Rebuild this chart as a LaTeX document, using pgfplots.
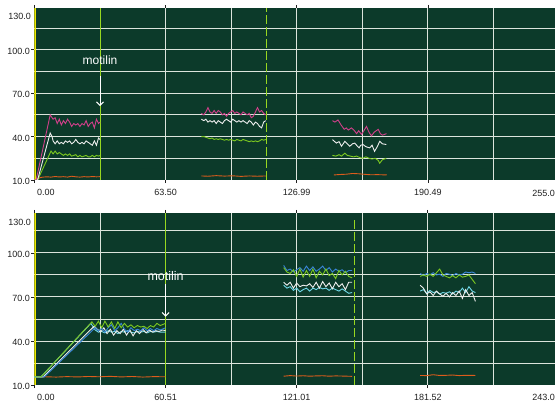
\documentclass[border=0pt]{standalone}
\usepackage{pgfplots}
\pgfplotsset{compat=1.18}
\usepackage{fontspec}
\setmainfont{Liberation Sans}
\usetikzlibrary{arrows.meta}
\definecolor{bgc}{HTML}{0C3A2A}
\definecolor{gridc}{HTML}{DCE4DC}
\definecolor{pinkc}{HTML}{D0408A}
\definecolor{whitec}{HTML}{EEEEEE}
\definecolor{greenc}{HTML}{7CC820}
\definecolor{orangec}{HTML}{DC5C1C}
\definecolor{bluec}{HTML}{3A86D8}
\definecolor{cyanc}{HTML}{70D8E8}
\definecolor{yellowc}{HTML}{F0E800}
\definecolor{motc}{HTML}{98D820}
\definecolor{labc}{HTML}{202020}

\pgfplotsset{
  panel/.style={
    anchor=south west, scale only axis, width=526.5pt, height=172pt,
    ymin=10, axis background/.style={fill=bgc},
    axis line style={draw=none},
    tick align=outside, major tick length=3pt, tick style={labc, line width=0.6pt},
    grid=both, major grid style={gridc, line width=0.9pt}, minor grid style={gridc, line width=0.9pt},
    minor tick length=0pt,
    ytick={40,70,100}, yticklabels={40.0,70.0,100.0},
    minor ytick={25,55,85,115},
    extra y ticks={10}, extra y tick labels={10.0},
    extra y tick style={grid=none},
    ticklabel style={font=\fontsize{9}{10}\selectfont, text=labc},
    yticklabel style={xshift=2pt, yshift=-1.5pt},
    xticklabel style={yshift=-3pt},
    extra x ticks={0}, extra x tick labels={0.00},
    extra x tick style={grid=none, xticklabel style={anchor=north west, xshift=-1pt}},
    unbounded coords=jump,
    every axis plot/.append style={line width=0.9pt, mark=none},
  },
}

\begin{document}
\begin{tikzpicture}[x=1pt,y=1pt]
\fill[white] (0,0) rectangle (555,405);

% ---------------- top panel ----------------
\begin{axis}[panel, at={(34.5pt,225pt)}, xmin=0, xmax=255, ymax=128.8,
  xtick={63.5,126.99,190.49}, xticklabels={63.50,126.99,190.49},
  minor xtick={31.75,95.25,158.74,222.24}]
\addplot[yellowc, line width=2.6pt] coordinates {(0,10) (0,128.8)};
\addplot[motc, line width=1.1pt] coordinates {(31.75,10) (31.75,128.8)};
\addplot[motc, line width=1pt, dash pattern=on 9pt off 3pt] coordinates {(112.6,10) (112.6,128.8)};
% orange
\addplot[orangec] coordinates {(0,10) (1,10.5) (2.5,11.5) (4,12) (6,12.2) (8,12) (10,12.4) (12,12.1) (14,12.3) (16,12) (18,12.6) (20,12.2) (22,12) (24,12.3) (26,12.1) (28,12.4) (30,12.2) (31.75,12.3)
 (50,nan)
 (80.8,12.8) (84,12.6) (88,13) (92,12.7) (96,12.9) (100,12.5) (104,12.8) (108,12.6) (112,12.8)
 (130,nan)
 (145,13.5) (148,13.8) (151,14) (154,14.5) (157,14.3) (160,13.9) (163,13.6) (166,13.7) (170.6,13.5)};
% green
\addplot[greenc] coordinates {(0,10) (1.5,10) (8,30) (9,28) (10,30) (11,28) (12,29) (13,28) (14,27) (15,28) (16,27) (17,28) (18,26.5) (19,27) (20,27.5) (21,26) (22,27) (23,26) (24,26.5) (25,27) (26,26) (27,26) (28,27) (29,26) (30,27) (31,26.5) (31.75,27)
 (50,nan)
 (80.8,40) (82,40) (83,39.5) (84,39) (85,38.5) (86,39) (87,38) (88,38.5) (89,38) (90,38.5) (91,38) (92,37.5) (93,38) (94,37.5) (95,38) (96,37.5) (97,37) (98,38) (99,37.5) (100,37) (101,38) (102,37.5) (103,37) (104,36.5) (105,37) (106,36.5) (107,37) (108,36.5) (109,37) (110,38) (111,37.5) (112,38)
 (130,nan)
 (144.3,27) (146,26.5) (147.5,27.5) (148.7,26.5) (150.3,28.5) (151.5,27) (153,26.5) (154.5,26) (156,26.5) (157.5,25.5) (159,25) (160.5,26) (162,25) (163.5,24.5) (165,25) (166.5,23.5) (167.2,21.6) (168.5,24) (170.4,25)};
% white
\addplot[whitec] coordinates {(0,10) (1.5,10) (7.6,42.5) (8.5,40) (9,37) (10,35) (11,37) (12,35) (13,36) (14,35) (15,37) (16,36) (17,37) (18,35) (19,36) (20,38) (21,36) (22,35) (23,36) (24,35) (25,37) (26,36) (27,35) (28,34) (29,37) (30,34) (31,39) (31.75,38)
 (50,nan)
 (80.8,52) (82,51) (83,52) (84,50) (85,51) (86,50) (87,51) (88,49) (89,51) (90,50) (91,49) (92,51) (93,52) (94,51) (95,50) (96,52) (97,51) (98,50) (99,51) (100,50) (101,51) (102,50) (103,49) (104,51) (105,50) (106,48) (107,50) (108,49) (109,47) (110,46) (111,50) (112,51)
 (130,nan)
 (144.3,37.9) (146.2,35.5) (147.5,36.5) (148.7,33.3) (150.3,36.7) (151.5,35) (152.7,33.3) (154,35) (155.1,35.5) (156,34) (157.2,32.2) (158,34) (159.1,34.5) (160.5,33) (162.3,32.2) (163.5,34) (164.7,29.8) (166,33) (167.2,36.7) (168.5,35) (170.4,34.5)};
% pink
\addplot[pinkc] coordinates {(0,10) (0.8,10) (7.6,55) (9,52) (10,53) (11,49) (12,52) (13,48) (14,51) (15,49) (16,52) (17,50) (18,47) (19,49) (20,48) (21,49) (22,47) (23,49) (24,48) (25,51) (26,47) (27,49) (28,50) (29,46) (30,52) (31,49) (31.75,50)
 (50,nan)
 (80.8,56) (82,55) (83,57) (84,60) (85,57) (86,56) (87,58) (88,56) (89,58) (90,57) (91,55) (92,56) (93,54) (94,56) (95,57) (96,58) (97,56) (98,57) (99,56) (100,55) (101,57) (102,56) (103,55) (104,56) (105,53) (106,54) (107,57) (108,60) (109,57) (110,58) (111,56) (112,55)
 (130,nan)
 (144.3,51) (145.5,50) (147,51.5) (148.5,48) (150,45) (151,46) (152,44.5) (153.5,46) (155,44) (156,42) (157,44) (158.4,41.5) (159.5,44) (160.8,47) (162,43) (163.2,40.5) (164.5,43) (165.5,44) (166.5,45) (167.5,42) (168.5,41) (170.5,42)};
\addplot[white, line width=1.1pt, -{Straight Barb[length=3.5pt,width=7pt]}] coordinates {(31.75,82) (31.75,61)};
\node[text=white, font=\fontsize{12}{14}\selectfont] at (axis cs:31.75,93) {motilin};
\end{axis}
\node[anchor=east, font=\fontsize{9}{10}\selectfont, text=labc, inner sep=0pt] at (31,389) {130.0};
\node[anchor=north east, font=\fontsize{9}{10}\selectfont, text=labc, inner sep=0pt] at (555,215) {255.0};

% ---------------- bottom panel ----------------
\begin{axis}[panel, at={(34.5pt,20pt)}, xmin=0, xmax=243, ymax=127.2,
  xtick={60.51,121.01,181.52}, xticklabels={60.51,121.01,181.52},
  minor xtick={30.25,90.76,151.27,211.77}]
\addplot[yellowc, line width=2.6pt] coordinates {(0,10) (0,127.2)};
\addplot[motc, line width=1.1pt] coordinates {(60.51,10) (60.51,127.2)};
\addplot[motc, line width=1pt, dash pattern=on 9pt off 3pt] coordinates {(147.5,10) (147.5,124)};
% orange
\addplot[orangec] coordinates {(1,15.5) (5,15.6) (10,15.4) (15,15.7) (20,15.5) (25,15.8) (30,15.6) (35,15.9) (40,15.5) (45,15.8) (50,15.4) (55,15.7) (60.5,15.6)
 (90,nan)
 (115,16) (118,16.4) (121,16.1) (124,16.3) (127,16) (130,16.2) (133,16.3) (136,16) (139,16.2) (142,16.1) (146.6,15.9)
 (160,nan)
 (178,16.5) (181,16.4) (184,17) (187,16.5) (190,16.6) (193,16.8) (196,16.4) (199,16.6) (203.5,16.5)};
% cyan
\addplot[cyanc] coordinates {(0,15.5) (3,15.5) (26,52) (28,47.5) (29.5,46) (31,46.5) (32.5,45.5) (34,47) (35.5,46) (37,46.5) (38.5,45) (40,46.5) (41.5,46) (43,47) (44.5,46) (46,45.5) (47.5,46.5) (49,46) (50.5,46.5) (52,45.5) (53.5,46.5) (55,46) (56.5,46.5) (58,46) (60.5,46)
 (90,nan)
 (115,78) (116.5,76) (118,77) (119.5,74.5) (121,76) (122.5,73.5) (124,75) (125.5,76) (127,74) (128.5,76) (130,75) (131.5,76.5) (133,75.5) (134.5,76) (136,74.5) (137.5,76) (139,75) (140.5,74) (142,75.5) (143.5,74) (145,72.5) (146.6,73)
 (160,nan)
 (178,74) (179.5,75) (181,72.5) (182.5,74.5) (184,73) (185.5,73.5) (187,72) (188.5,73) (190,72.5) (191.5,73.5) (193,72) (194.5,74) (196,73) (197.5,76) (199,73) (200.5,77) (202,74) (203.5,73)};
% white
\addplot[whitec] coordinates {(0,15.5) (4,15.5) (27.5,50) (29,48) (30.5,46) (32,49) (33.5,45) (35,48) (36.5,44) (38,47) (39.5,45) (41,48) (42.5,44) (44,47.5) (45.5,43.5) (47,47) (48.5,45) (50,48) (51.5,45.5) (53,47.5) (54.5,46) (56,47) (57.5,46.5) (59,47.5) (60.5,47)
 (90,nan)
 (115,80) (116.5,78) (118,80) (119.5,76) (121,79.5) (122.5,77) (124,78) (125.5,77.5) (127,79) (128.5,76.5) (130,80) (131.5,76) (133,80.5) (134.5,77) (136,79.5) (137.5,75.5) (139,80) (140.5,77) (142,79) (143.5,75) (145,80) (146.6,80)
 (160,nan)
 (178,78) (179.5,76) (181,72) (182.5,73.5) (184,71) (185.5,74) (187,72) (188.5,70.5) (190,72.5) (191.5,70) (193,73) (194.5,71) (196,74) (197.5,69) (199,75) (200.5,71) (202,73) (203.5,67)};
% blue
\addplot[bluec] coordinates {(0,15.5) (4.5,15.5) (28,49) (29.5,47) (31,48.5) (32.5,46) (34,49) (35.5,51) (37,47) (38.5,49) (40,52) (41.5,48) (43,46) (44.5,49) (46,47) (47.5,48) (49,47) (50.5,49) (52,47) (53.5,48.5) (55,47) (56.5,48.5) (58,47.5) (60.5,49)
 (90,nan)
 (115,91.5) (116.5,88) (118,89) (119.5,87) (121,88.5) (122.5,90) (124,87.5) (125.5,91) (127,88) (128.5,90.5) (130,87.5) (131.5,89) (133,91) (134.5,88) (136,90) (137.5,87) (139,89) (140.5,87.5) (142,88.5) (143.5,86.5) (145,88) (146.6,88)
 (160,nan)
 (178,86) (179.5,84.5) (181,86) (182.5,85) (184,86.5) (185.5,85) (187,85.5) (188.5,84) (190,86) (191.5,85.5) (193,84.5) (194.5,86) (196,85) (197.5,85.5) (199,87) (200.5,86.5) (202,87) (203.5,86)};
% green
\addplot[greenc] coordinates {(0,15.5) (3,15.5) (26.5,53) (28,50) (29.5,53.5) (31,49) (32.5,53.5) (34,49.5) (35.5,53) (37,48.5) (38.5,53) (40,49) (41.5,52) (43,49.5) (44.5,51) (46,49) (47.5,50.5) (49,49.5) (50.5,50) (52,48.5) (53.5,50.5) (55,49.5) (56.5,52) (58,50.5) (60.5,52)
 (90,nan)
 (115,90) (116.5,87) (118,86) (119.5,88.5) (121,84) (122.5,89) (124,83.5) (125.5,88) (127,84) (128.5,89) (130,83) (131.5,87.5) (133,85) (134.5,89) (136,84.5) (137.5,86) (139,82.5) (140.5,88) (142,85) (143.5,87.5) (145,84) (146.6,83)
 (160,nan)
 (178,84) (179.5,85) (181,84) (182.5,85.5) (184,84) (185.5,86.5) (187,89) (188.5,85) (190,84) (191.5,83) (193,84.5) (194.5,83) (196,85) (197.5,83.5) (199,84) (200.5,85) (202,82) (203.5,79)};
\addplot[white, line width=1.1pt, -{Straight Barb[length=3.5pt,width=7pt]}] coordinates {(60.51,79) (60.51,56.5)};
\node[text=white, font=\fontsize{12.5}{14}\selectfont] at (axis cs:60.51,84.5) {motilin};
\end{axis}
\node[anchor=east, font=\fontsize{9}{10}\selectfont, text=labc, inner sep=0pt] at (31,183) {130.0};
\node[anchor=north east, font=\fontsize{9}{10}\selectfont, text=labc, inner sep=0pt] at (555,11) {243.0};

\pgfresetboundingbox
\path (0,0) rectangle (555,405);
\end{tikzpicture}
\end{document}
